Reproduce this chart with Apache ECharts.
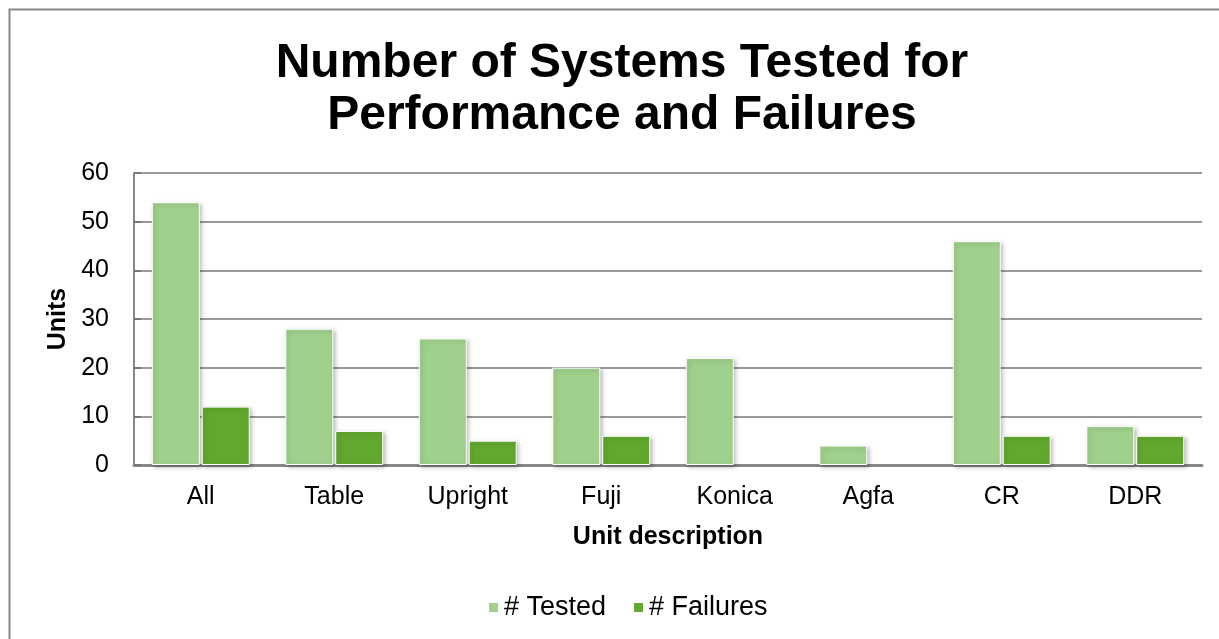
<!DOCTYPE html>
<html>
<head>
<meta charset="utf-8">
<script src="https://cdn.jsdelivr.net/npm/echarts@6/dist/echarts.min.js"></script>
<style>
  html, body { margin: 0; padding: 0; background: #fff; }
  #chart { width: 1219px; height: 639px; }
</style>
</head>
<body>
<div id="chart"></div>
<script>
var categories = ['All', 'Table', 'Upright', 'Fuji', 'Konica', 'Agfa', 'CR', 'DDR'];
var testedValues = [54, 28, 26, 20, 22, 4, 46, 8];
var failureValues = [12, 7, 5, 6, 0, 0, 6, 6];
var seriesNames = ['# Tested', '# Failures'];

var chart = echarts.init(document.getElementById('chart'), null, { renderer: 'canvas' });
var font = 'Arial, "Liberation Sans", sans-serif';

// 0 值的柱子不画白边和阴影
function toBarData(values) {
    return values.map(function (v) {
        if (v === 0) return { value: v, itemStyle: { borderWidth: 0, shadowBlur: 0, shadowOffsetX: 0, shadowOffsetY: 0 } };
        return v;
    });
}

function barStyle(color) {
    return {
        color: color,
        borderColor: '#fff',
        borderWidth: 1,
        shadowColor: 'rgba(0,0,0,0.25)',
        shadowBlur: 4,
        shadowOffsetX: 2,
        shadowOffsetY: 2
    };
}

chart.setOption({
    backgroundColor: '#fff',
    animation: false,
    graphic: [{
        type: 'rect',
        shape: { x: 9.5, y: 9.5, width: 1240, height: 660 },
        style: { fill: 'none', stroke: '#888', lineWidth: 2 },
        silent: true
    }],
    title: {
        text: 'Number of Systems Tested for\nPerformance and Failures',
        left: 617,
        top: 33,
        textAlign: 'center',
        textStyle: { fontFamily: font, fontSize: 48, fontWeight: 'bold', color: '#000', lineHeight: 52 }
    },
    legend: {
        bottom: 13,
        left: 482,
        itemWidth: 11,
        itemHeight: 11,
        itemGap: 26,
        icon: 'rect',
        textStyle: { fontFamily: font, fontSize: 27, color: '#000' },
        data: seriesNames
    },
    grid: { left: 134, right: 17, top: 173, bottom: 174, containLabel: false },
    xAxis: {
        type: 'category',
        data: categories,
        name: 'Unit description',
        nameLocation: 'middle',
        nameGap: 60,
        nameTextStyle: { fontFamily: font, fontSize: 25, fontWeight: 'bold', color: '#000' },
        axisLine: { lineStyle: { color: '#888', width: 3 } },
        axisTick: { show: false },
        axisLabel: { fontFamily: font, fontSize: 25, color: '#000', margin: 20 }
    },
    yAxis: {
        type: 'value',
        min: 0,
        max: 60,
        interval: 10,
        name: 'Units',
        nameLocation: 'middle',
        nameGap: 61,
        nameTextStyle: { fontFamily: font, fontSize: 25, fontWeight: 'bold', color: '#000' },
        axisLine: { show: true, lineStyle: { color: '#888', width: 2 } },
        axisTick: { show: true, inside: true, length: 7, lineStyle: { color: '#777', width: 2 } },
        axisLabel: { fontFamily: font, fontSize: 25, color: '#000', margin: 25 },
        splitLine: { lineStyle: { color: '#999', width: 2 } }
    },
    series: [{
        name: seriesNames[0],
        type: 'bar',
        data: toBarData(testedValues),
        barWidth: 48,
        barGap: '4%',
        itemStyle: barStyle('#A0D18C')
    }, {
        name: seriesNames[1],
        type: 'bar',
        data: toBarData(failureValues),
        barWidth: 48,
        itemStyle: barStyle('#62A82F')
    }]
});
</script>
</body>
</html>
